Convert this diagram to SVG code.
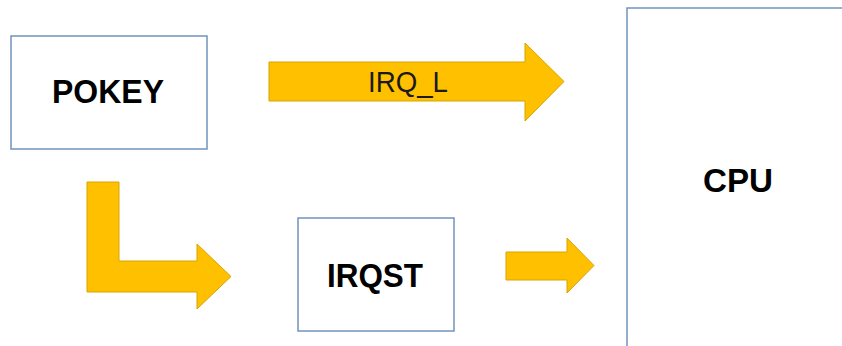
<svg xmlns="http://www.w3.org/2000/svg" width="842" height="346" viewBox="0 0 842 346">
  <style>
    .box { fill: #ffffff; stroke: #6f93bf; stroke-width: 1.5; }
    .arrow { fill: #ffc000; stroke: #d9a400; stroke-width: 1; stroke-linejoin: miter; }
    .label { font-family: "Liberation Sans", Arial, sans-serif; font-weight: bold; fill: #000000; text-anchor: middle; }
    .flow { font-family: "Liberation Sans", Arial, sans-serif; fill: #1a1a1a; text-anchor: middle; }
  </style>
  <rect width="842" height="346" fill="#ffffff"/>

  <g id="pokey">
    <rect class="box" x="11" y="36" width="196" height="113"/>
    <text class="label" x="108" y="103" font-size="34" textLength="112" lengthAdjust="spacingAndGlyphs">POKEY</text>
  </g>

  <g id="irqst">
    <rect class="box" x="298" y="218" width="156" height="113"/>
    <text class="label" x="375" y="287" font-size="33" textLength="96" lengthAdjust="spacingAndGlyphs">IRQST</text>
  </g>

  <g id="cpu">
    <rect class="box" x="627" y="8" width="230" height="350"/>
    <text class="label" x="738" y="192" font-size="34" textLength="70" lengthAdjust="spacingAndGlyphs">CPU</text>
  </g>

  <g id="connectors">
    <!-- POKEY to CPU: IRQ_L line -->
    <g id="irq-l">
      <path class="arrow" d="M269,62 H525 V43 L564,81.5 L525,121 V101 H269 Z"/>
      <text class="flow" x="408" y="92" font-size="30" textLength="80" lengthAdjust="spacingAndGlyphs">IRQ_L</text>
    </g>
    <!-- POKEY to IRQST: bent arrow -->
    <path id="pokey-irqst" class="arrow" d="M87,182 H119 V261 H197 V244 L231,276.5 L197,309 V292 H87 Z"/>
    <!-- IRQST to CPU -->
    <path id="irqst-cpu" class="arrow" d="M506,252 H567 V238 L594,265.5 L567,293 V280 H506 Z"/>
  </g>
</svg>
